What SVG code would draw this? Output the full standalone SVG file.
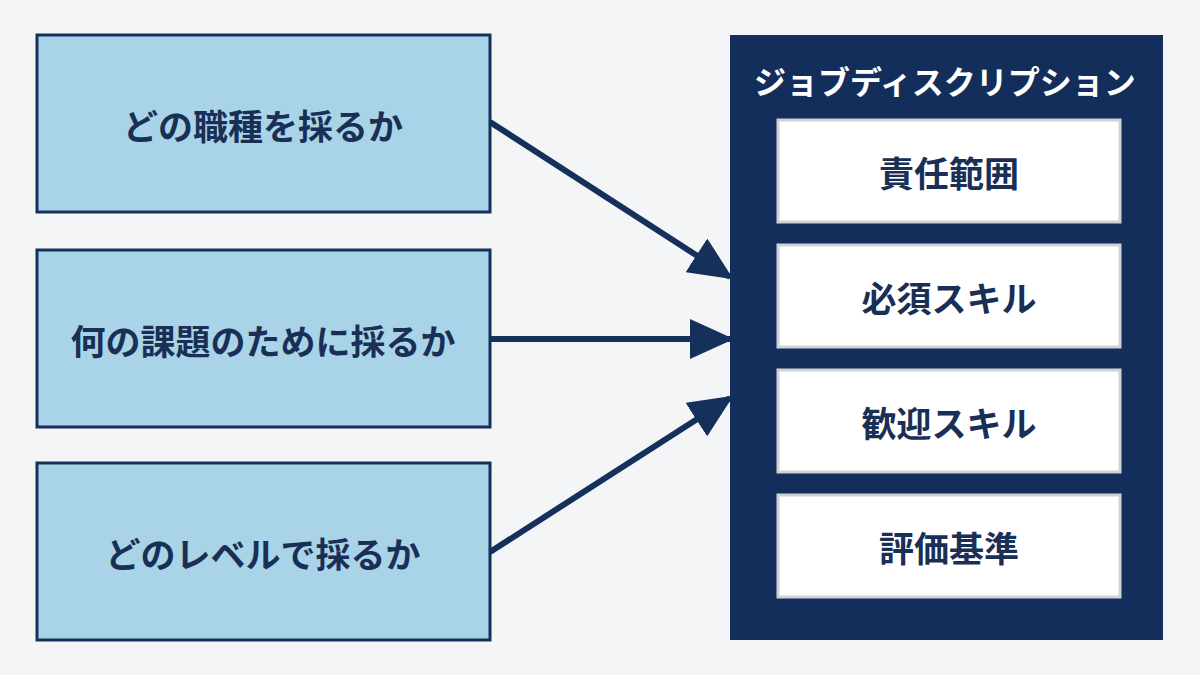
<svg xmlns="http://www.w3.org/2000/svg" width="1200" height="675" viewBox="0 0 1200 675">
<style>
.l{fill:#a9d4e8;stroke:#16305c;stroke-width:3}
.i{fill:#fff;stroke:#d0d2d6;stroke-width:3}
text{font-family:"Noto Sans CJK JP",sans-serif;font-weight:bold;text-anchor:middle;dominant-baseline:central}
.t{fill:#1a2f55;font-size:35px}
.c{stroke:#16305c;stroke-width:6;fill:none;marker-end:url(#a)}
</style>
<defs><marker id="a" markerUnits="userSpaceOnUse" markerWidth="44" markerHeight="40" refX="40" refY="20" orient="auto"><path d="M0,0L44,20L0,40z" fill="#16305c"/></marker></defs>
<rect width="1200" height="675" fill="#f4f5f6"/>
<g id="n1"><rect class="l" x="37" y="35" width="453" height="177"/><text class="t" x="263" y="124">どの職種を採るか</text></g>
<g id="n2"><rect class="l" x="37" y="250" width="453" height="177"/><text class="t" x="263" y="339">何の課題のために採るか</text></g>
<g id="n3"><rect class="l" x="37" y="463" width="453" height="177"/><text class="t" x="263" y="552">どのレベルで採るか</text></g>
<g id="jd"><rect x="730" y="35" width="433" height="605" fill="#142e5c"/><text x="945" y="80" fill="#fff" font-size="32">ジョブディスクリプション</text>
<g id="j1"><rect class="i" x="778" y="120" width="342" height="102"/><text class="t" x="949" y="171">責任範囲</text></g>
<g id="j2"><rect class="i" x="778" y="245" width="342" height="102"/><text class="t" x="949" y="296">必須スキル</text></g>
<g id="j3"><rect class="i" x="778" y="370" width="342" height="102"/><text class="t" x="949" y="421">歓迎スキル</text></g>
<g id="j4"><rect class="i" x="778" y="495" width="342" height="102"/><text class="t" x="949" y="546">評価基準</text></g></g>
<g id="connectors">
<line class="c" x1="490" y1="122" x2="730" y2="277"/>
<line class="c" x1="490" y1="339" x2="730" y2="339"/>
<line class="c" x1="490" y1="552" x2="730" y2="398"/>
</g>
</svg>
